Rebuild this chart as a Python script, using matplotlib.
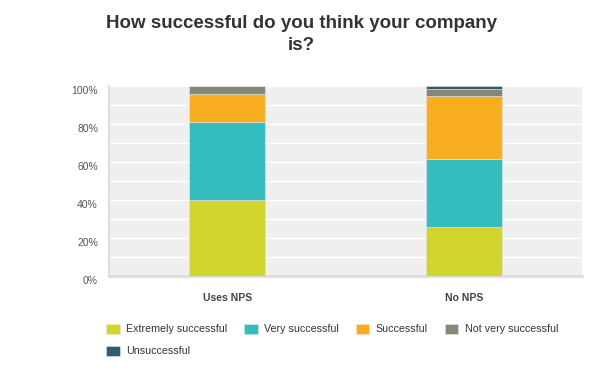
import matplotlib

matplotlib.use("Agg")
import matplotlib.pyplot as plt
from matplotlib.ticker import FuncFormatter, MultipleLocator
from matplotlib.transforms import ScaledTranslation

# data (percent of respondents)
groups = ["Uses NPS", "No NPS"]
series = ["Extremely successful", "Very successful", "Successful", "Not very successful", "Unsuccessful"]
extremely = [40.0, 25.6]
very = [41.0, 36.0]
successful = [15.0, 33.0]
not_very = [4.0, 4.0]
unsuccessful = [0.0, 1.4]
colors = ["#cfd52a", "#33bdbe", "#f8ae1f", "#86877a", "#2e5e6b"]

plt.rcParams["font.family"] = ["Liberation Sans", "DejaVu Sans"]

fig = plt.figure(figsize=(6.0, 3.76), dpi=100)
ax = fig.add_axes([109 / 600, 1 - 276 / 376, 473 / 600, 190 / 376])
ax.set_facecolor("#efefef")

x = list(range(len(groups)))
bottom = [0.0] * len(groups)
handles = []
for name, vals, col in zip(series, [extremely, very, successful, not_very, unsuccessful], colors):
    h = ax.bar(x, vals, bottom=bottom, width=0.32, color=col, label=name, zorder=3,
               edgecolor="#e6e6e6", linewidth=0.4)
    handles.append(h)
    bottom = [b + v for b, v in zip(bottom, vals)]

ax.set_xlim(-0.5, 1.5)
ax.set_ylim(0, 100)
ax.yaxis.set_major_locator(MultipleLocator(20))
ax.yaxis.set_minor_locator(MultipleLocator(10))
ax.yaxis.set_major_formatter(FuncFormatter(lambda v, p: f"{v:.0f}%"))
ax.grid(True, which="both", axis="y", color="white", lw=1.0, zorder=1)
ax.tick_params(axis="y", which="both", length=0, labelsize=7.5, labelcolor="#555555", pad=8)
shift = ScaledTranslation(0, -4 / 100, fig.dpi_scale_trans)
for lab in ax.get_yticklabels():
    lab.set_transform(lab.get_transform() + shift)
ax.set_xticks(x)
ax.set_xticklabels(groups, fontsize=7.5, fontweight="bold", color="#444444")
ax.tick_params(axis="x", length=0, pad=12)
for s in ["top", "right"]:
    ax.spines[s].set_visible(False)
ax.spines["left"].set_color("#dddddd")
ax.spines["left"].set_linewidth(1.5)
ax.spines["bottom"].set_color("#dddddd")
ax.spines["bottom"].set_linewidth(2)

fig.text(0.502, 1 - 15 / 376, "How successful do you think your company\nis?", ha="center", va="top",
         fontsize=13.5, fontweight="bold", color="#333333", linespacing=1.4)

# matplotlib fills legend columns first; reorder so items read row by row
order = [0, 4, 1, 2, 3]
fig.legend([handles[i] for i in order], [series[i] for i in order],
           loc="upper left", bbox_to_anchor=(96 / 600, 1 - 314 / 376), ncol=4, frameon=False,
           fontsize=7.7, handlelength=1.3, handleheight=1.1, handletextpad=0.6,
           columnspacing=1.55, labelspacing=1.05, labelcolor="#333333")

fig.savefig("out.png", dpi=100)
